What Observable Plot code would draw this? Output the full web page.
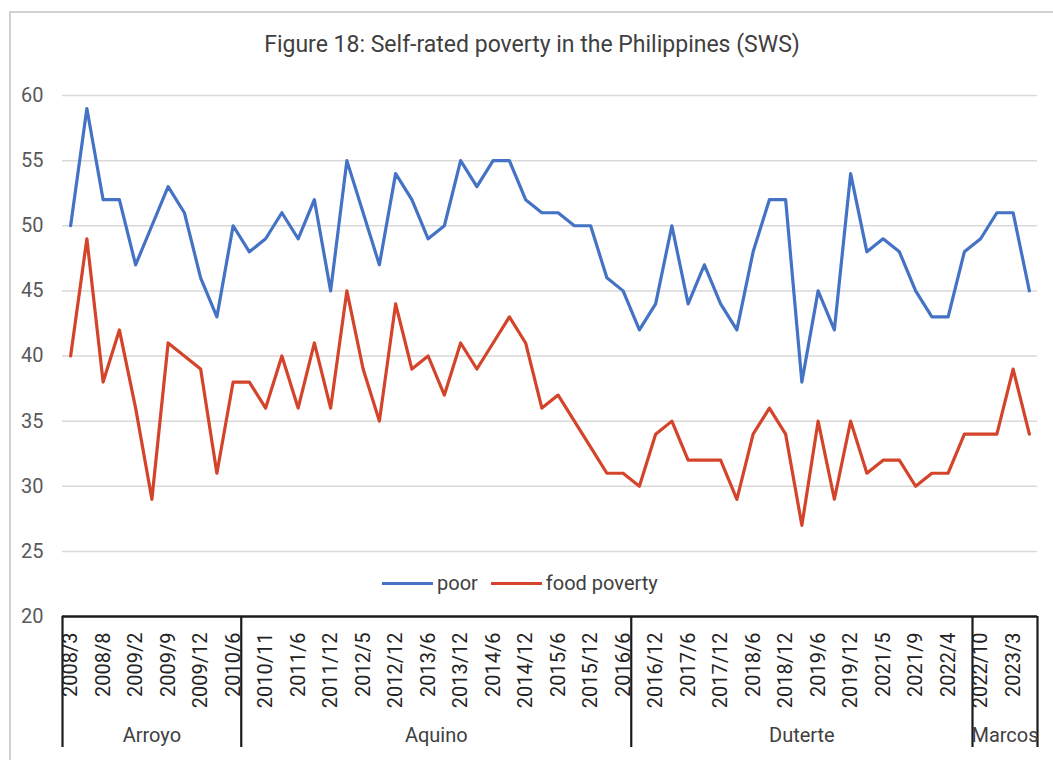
<!DOCTYPE html>
<html><head><meta charset="utf-8">
<script src="https://cdn.jsdelivr.net/npm/d3@7"></script>
<script src="https://cdn.jsdelivr.net/npm/@observablehq/plot@0.6"></script>
<style>
body{margin:0;background:#fff;font-family:Roboto,sans-serif;}
#frame{position:absolute;left:9px;top:11px;width:1042px;height:747px;border-top:2px solid #d2d2d2;border-left:2px solid #d2d2d2;}
#title{height:58px;box-sizing:border-box;padding-top:19px;line-height:26px;font-size:23px;color:#404040;text-align:center;}
#chart svg{display:block;}
#legend{position:absolute;left:371px;top:558px;height:24px;display:flex;align-items:center;font-size:20px;color:#404040;white-space:nowrap;}
#legend .sw{display:inline-block;width:51px;height:3px;margin-right:4px;}
#legend .item{display:flex;align-items:center;margin-right:13px;}
</style></head>
<body>
<div id="frame">
  <div id="title">Figure 18: Self-rated poverty in the Philippines (SWS)</div>
  <div id="chart"></div>
  <div id="legend"></div>
</div>
<script>
const labels = ["2008/3","2008/6","2008/8","2008/12","2009/2","2009/6","2009/9","2009/10","2009/12","2010/3",
  "2010/6","2010/9","2010/11","2011/3","2011/6","2011/9","2011/12","2012/3","2012/5","2012/8",
  "2012/12","2013/3","2013/6","2013/9","2013/12","2014/3","2014/6","2014/9","2014/12","2015/3",
  "2015/6","2015/9","2015/12","2016/3","2016/6","2016/9","2016/12","2017/3","2017/6","2017/9",
  "2017/12","2018/3","2018/6","2018/9","2018/12","2019/3","2019/6","2019/9","2019/12","2020/12",
  "2021/5","2021/6","2021/9","2021/12","2022/4","2022/6","2022/10","2022/12","2023/3","2023/6"];
const poor = [50,59,52,52,47,50,53,51,46,43,
  50,48,49,51,49,52,45,55,51,47,
  54,52,49,50,55,53,55,55,52,51,
  51,50,50,46,45,42,44,50,44,47,
  44,42,48,52,52,38,45,42,54,48,
  49,48,45,43,43,48,49,51,51,45];
const food = [40,49,38,42,36,29,41,40,39,31,
  38,38,36,40,36,41,36,45,39,35,
  44,39,40,37,41,39,41,43,41,36,
  37,35,33,31,31,30,34,35,32,32,
  32,29,34,36,34,27,35,29,35,31,
  32,32,30,31,31,34,34,34,39,34];
const presidents = ["Arroyo","Aquino","Duterte","Marcos"];
const presidentStart = ["2008/3","2010/9","2016/9","2022/10"];
const yTicks = [20,25,30,35,40,45,50,55,60];
const seriesNames = ["poor","food poverty"];
const seriesColors = ["#4472C4","#D4442A"];

const shownTicks = labels.map((l,i)=>({i,l})).filter(d=>d.i%2===0);
const starts = presidentStart.map(s=>labels.indexOf(s));
const bounds = starts.map(s=>s-0.5).concat([labels.length-0.5]);
const groups = presidents.map((p,k)=>({p, c:(starts[k] + (k<presidents.length-1?starts[k+1]:labels.length) - 1)/2}));
const rows = [];
poor.forEach((v,i)=>rows.push({i,v,s:seriesNames[0]}));
food.forEach((v,i)=>rows.push({i,v,s:seriesNames[1]}));

const chart = Plot.plot({
  width:1042, height:689,
  marginTop:24, marginBottom:144, marginLeft:51, marginRight:16,
  style:{fontFamily:"Roboto, sans-serif", background:"#fff"},
  x:{type:"linear", domain:[-0.5, labels.length-0.5], axis:null},
  y:{domain:[20,60], axis:null},
  color:{domain:seriesNames, range:seriesColors},
  marks:[
    Plot.ruleY(yTicks.filter(t=>t>20), {stroke:"#d9d9d9", strokeWidth:1.5}),
    Plot.axisY({ticks:yTicks, tickSize:0, tickPadding:19, fontSize:20, color:"#595959", label:null, tickFormat:d=>String(d)}),
    Plot.line(rows, {x:"i", y:"v", z:"s", stroke:"s", strokeWidth:3.2, strokeLinejoin:"round", strokeLinecap:"round"}),
    Plot.ruleY([20], {stroke:"#1a1a1a", strokeWidth:2.5}),
    Plot.ruleX(bounds, {stroke:"#1a1a1a", strokeWidth:2.2, insetTop:521, insetBottom:-131}),
    Plot.text(shownTicks, {x:"i", text:"l", frameAnchor:"bottom", dy:16, rotate:-90, textAnchor:"end", lineAnchor:"middle", fontSize:20, fill:"#222"}),
    Plot.text(groups, {x:"c", text:"p", frameAnchor:"bottom", dy:119, lineAnchor:"middle", fontSize:20, fill:"#404040"})
  ]
});
document.getElementById("chart").appendChild(chart);

const legend = document.getElementById("legend");
seriesNames.forEach((n,k)=>{
  const it = document.createElement("span"); it.className="item";
  const sw = document.createElement("span"); sw.className="sw"; sw.style.background=seriesColors[k];
  it.appendChild(sw); it.appendChild(document.createTextNode(n));
  legend.appendChild(it);
});
</script>
</body></html>
